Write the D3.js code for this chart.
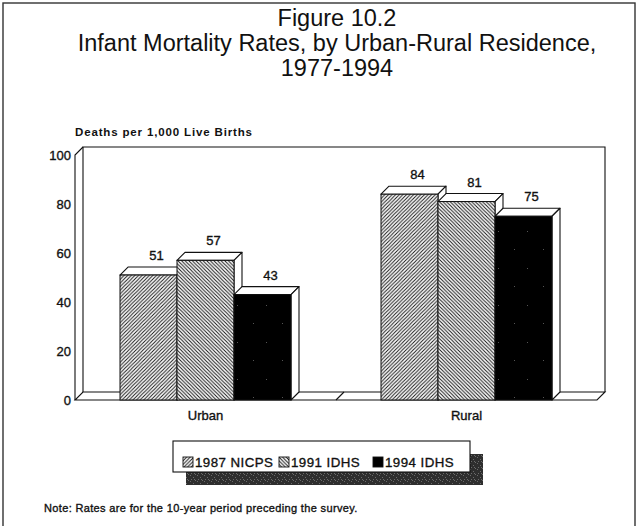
<!DOCTYPE html>
<html>
<head>
<meta charset="utf-8">
<script src="https://cdn.jsdelivr.net/npm/d3@7"></script>
<style>
  html, body { margin: 0; padding: 0; background: #fff; }
  svg text { font-family: "Liberation Sans", Arial, Helvetica, sans-serif; fill: #111; }
  svg text.heavy { stroke: #111; stroke-width: 0.35; }
</style>
</head>
<body>
<svg id="chart" width="637" height="526"></svg>
<script>
// Infant mortality rates (deaths per 1,000 live births) by residence
const categories = ["Urban", "Rural"];
const seriesNames = ["1987 NICPS", "1991 IDHS", "1994 IDHS"];
const nicps1987 = [51, 84];
const idhs1991 = [57, 81];
const idhs1994 = [43, 75];
const yTicks = [0, 20, 40, 60, 80, 100];
const titleLines = [
  "Figure 10.2",
  "Infant Mortality Rates, by Urban-Rural Residence,",
  "1977-1994"
];
const yAxisTitle = "Deaths per 1,000 Live Births";
const noteText = "Note: Rates are for the 10-year period preceding the survey.";

const seriesValues = [nicps1987, idhs1991, idhs1994];

const svg = d3.select("#chart");
const ink = "#111";

// ---- patterns ----
const defs = svg.append("defs");
function hatch(id, forward) {
  const s = 3.6;
  const p = defs.append("pattern").attr("id", id)
    .attr("patternUnits", "userSpaceOnUse").attr("width", s).attr("height", s);
  p.append("rect").attr("width", s).attr("height", s).attr("fill", "#fff");
  const d = forward
    ? `M0,${s} L${s},0 M${-s/2},${s/2} L${s/2},${-s/2} M${s/2},${s*1.5} L${s*1.5},${s/2}`
    : `M0,0 L${s},${s} M${-s/2},${s/2} L${s/2},${s*1.5} M${s/2},${-s/2} L${s*1.5},${s/2}`;
  p.append("path").attr("d", d).attr("stroke", ink).attr("stroke-width", 0.95);
}
hatch("hatchFwd", true);
hatch("hatchBack", false);

// solid black fill with sparse print specks
const solid = defs.append("pattern").attr("id", "speckle")
  .attr("patternUnits", "userSpaceOnUse").attr("width", 29).attr("height", 37);
solid.append("rect").attr("width", 29).attr("height", 37).attr("fill", "#000");
[[5, 9], [21, 27]].forEach(([cx, cy]) =>
  solid.append("rect").attr("x", cx).attr("y", cy).attr("width", 1).attr("height", 1).attr("fill", "#555"));

// mottled drop shadow
const shade = defs.append("pattern").attr("id", "shadow")
  .attr("patternUnits", "userSpaceOnUse").attr("width", 7).attr("height", 6);
shade.append("rect").attr("width", 7).attr("height", 6).attr("fill", "#2e2e2e");
[[1, 1], [4, 3], [2, 5], [6, 0], [5, 5]].forEach(([cx, cy]) =>
  shade.append("rect").attr("x", cx).attr("y", cy).attr("width", 1).attr("height", 1).attr("fill", "#6a6a6a"));

const fills = ["url(#hatchFwd)", "url(#hatchBack)", "url(#speckle)"];

// ---- outer frame ----
svg.append("rect").attr("x", 3).attr("y", 3).attr("width", 632).attr("height", 530)
  .attr("fill", "none").attr("stroke", "#333").attr("stroke-width", 1.4);

// ---- title ----
const titleY = [26, 51, 76];
svg.append("g").selectAll("text").data(titleLines).join("text")
  .attr("x", 337).attr("y", (d, i) => titleY[i])
  .attr("text-anchor", "middle").attr("font-size", 23.5)
  .text(d => d);

// ---- scales ----
const plotLeft = 75, plotRight = 597, plotBottom = 400, plotTop = 155;
const dx = 8, dy = 8;
const groupWidth = 171;
const x0 = d3.scaleBand().domain(categories).range([plotLeft, plotRight]);
const x1 = d3.scaleBand().domain(seriesNames).range([0, groupWidth]);
const y = d3.scaleLinear().domain([0, 100]).range([plotBottom, plotTop]);

const plot = svg.append("g").attr("fill", "none").attr("stroke", ink).attr("stroke-width", 1.1);

// back wall
plot.append("path")
  .attr("d", `M${plotLeft + dx},${plotBottom - dy} L${plotLeft + dx},${plotTop - dy} L${plotRight + dx},${plotTop - dy} L${plotRight + dx},${plotBottom - dy}`);
// left edge of the frame
plot.append("path")
  .attr("d", `M${plotLeft},${plotBottom} L${plotLeft},${plotTop} L${plotLeft + dx},${plotTop - dy}`);
// floor slab
plot.append("path")
  .attr("fill", "#fff")
  .attr("d", `M${plotLeft},${plotBottom} L${plotRight},${plotBottom} L${plotRight + dx},${plotBottom - dy} L${plotLeft + dx},${plotBottom - dy} Z`);
// floor divider between categories
const mid = x0(categories[1]);
plot.append("path").attr("d", `M${mid},${plotBottom} L${mid + dx},${plotBottom - dy}`);

// ---- bars ----
const bars = [];
categories.forEach((c, ci) => {
  seriesNames.forEach((s, si) => {
    const bx = x0(c) + (x0.bandwidth() - groupWidth) / 2 + x1(s);
    bars.push({ c, s, si, v: seriesValues[si][ci], x: bx, w: x1.bandwidth() });
  });
});

const barG = svg.append("g").selectAll("g").data(bars).join("g");
barG.each(function (d) {
  const g = d3.select(this);
  const yt = y(d.v), x = d.x, w = d.w;
  // top face
  g.append("path")
    .attr("d", `M${x},${yt} L${x + dx},${yt - dy} L${x + w + dx},${yt - dy} L${x + w},${yt} Z`)
    .attr("fill", "#fff").attr("stroke", ink).attr("stroke-width", 1.1).attr("stroke-linejoin", "round");
  // side face
  g.append("path")
    .attr("d", `M${x + w},${yt} L${x + w + dx},${yt - dy} L${x + w + dx},${plotBottom - dy} L${x + w},${plotBottom} Z`)
    .attr("fill", "#fff").attr("stroke", ink).attr("stroke-width", 1.1).attr("stroke-linejoin", "round");
  // front face
  g.append("rect")
    .attr("x", x).attr("y", yt).attr("width", w).attr("height", plotBottom - yt)
    .attr("fill", fills[d.si]).attr("stroke", ink).attr("stroke-width", 1);
});

// value labels
svg.append("g").selectAll("text").data(bars).join("text")
  .attr("class", "heavy")
  .attr("x", d => d.x + d.w / 2 + dx)
  .attr("y", d => y(d.v) - dy - 7)
  .attr("text-anchor", "middle").attr("font-size", 13)
  .text(d => d.v);

// ---- y axis labels ----
svg.append("g").selectAll("text").data(yTicks).join("text")
  .attr("class", "heavy")
  .attr("x", 71).attr("y", d => y(d) + 4.5)
  .attr("text-anchor", "end").attr("font-size", 13)
  .text(d => d);

svg.append("text").attr("x", 75).attr("y", 135.5)
  .attr("font-size", 11.5).attr("font-weight", "bold").attr("letter-spacing", 0.85)
  .text(yAxisTitle);

// category labels
svg.append("g").selectAll("text").data(categories).join("text")
  .attr("class", "heavy")
  .attr("x", d => x0(d) + x0.bandwidth() / 2)
  .attr("y", 420)
  .attr("text-anchor", "middle").attr("font-size", 13)
  .text(d => d);

// ---- legend ----
const lg = svg.append("g");
lg.append("rect").attr("x", 186).attr("y", 454).attr("width", 297).attr("height", 31)
  .attr("fill", "url(#shadow)");
lg.append("rect").attr("x", 173).attr("y", 441).attr("width", 297).attr("height", 31)
  .attr("fill", "#fff").attr("stroke", ink).attr("stroke-width", 1.1);
const legendX = [183, 279, 373];
const items = lg.selectAll("g.item").data(seriesNames).join("g").attr("class", "item")
  .attr("transform", (d, i) => `translate(${legendX[i]},0)`);
items.append("rect").attr("x", 0).attr("y", 457).attr("width", 10).attr("height", 10)
  .attr("fill", (d, i) => fills[i]).attr("stroke", ink).attr("stroke-width", 0.9);
items.append("text").attr("class", "heavy").attr("x", 12).attr("y", 466.5)
  .attr("font-size", 13.3).attr("letter-spacing", 0.45)
  .text(d => d);

// ---- note ----
svg.append("text").attr("class", "heavy").attr("x", 44).attr("y", 512)
  .attr("font-size", 11).attr("letter-spacing", 0.35)
  .text(noteText);
</script>
</body>
</html>
